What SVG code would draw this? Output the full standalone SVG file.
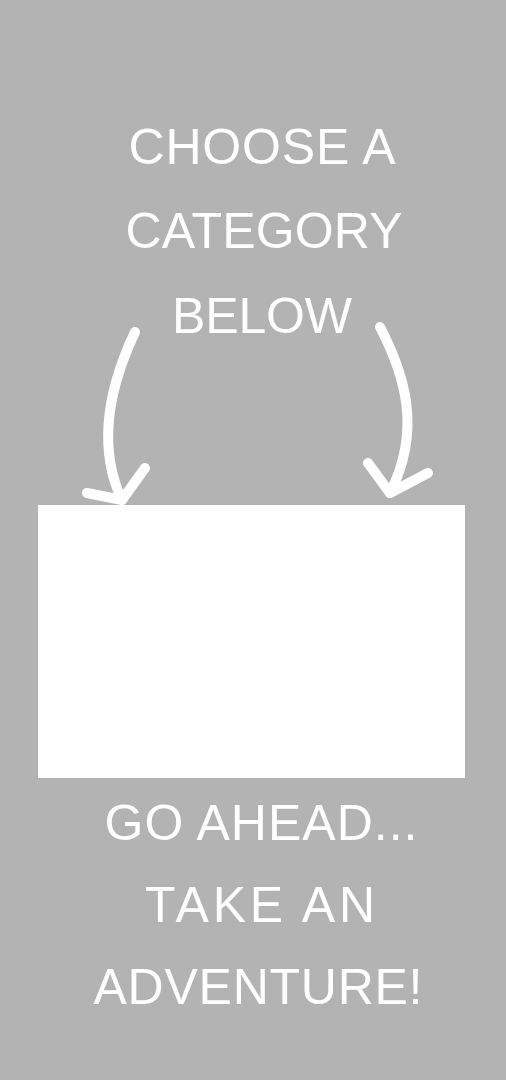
<svg xmlns="http://www.w3.org/2000/svg" width="506" height="1080" viewBox="0 0 506 1080">
<style>
.t{font-family:"Liberation Sans",Arial,sans-serif;font-size:50px;fill:#ffffff;text-anchor:middle}
.a{fill:none;stroke:#ffffff;stroke-width:10;stroke-linecap:round;stroke-linejoin:round}
</style>
<rect x="0" y="0" width="506" height="1080" fill="#b3b3b3"/>
<g id="title">
<text class="t" x="262" y="164" textLength="267" lengthAdjust="spacing">CHOOSE A</text>
<text class="t" x="264" y="248" textLength="277" lengthAdjust="spacing">CATEGORY</text>
<text class="t" x="262" y="333" textLength="180" lengthAdjust="spacing">BELOW</text>
</g>
<g id="box">
<rect x="38" y="505" width="427" height="273" fill="#ffffff"/>
</g>
<g id="footer">
<text class="t" x="261" y="840" textLength="313" lengthAdjust="spacing">GO AHEAD...</text>
<text class="t" x="260" y="922" textLength="230" lengthAdjust="spacing">TAKE AN</text>
<text class="t" x="258" y="1004" textLength="329" lengthAdjust="spacing">ADVENTURE!</text>
</g>
<g id="connectors">
<path class="a" d="M135,332 C110,385 96,445 122,500"/>
<polyline class="a" points="87,493 122,500 145,468"/>
<path class="a" d="M380,327 C405,375 422,430 390,493"/>
<polyline class="a" points="368,463 390,493 428,473"/>
</g>
</svg>
